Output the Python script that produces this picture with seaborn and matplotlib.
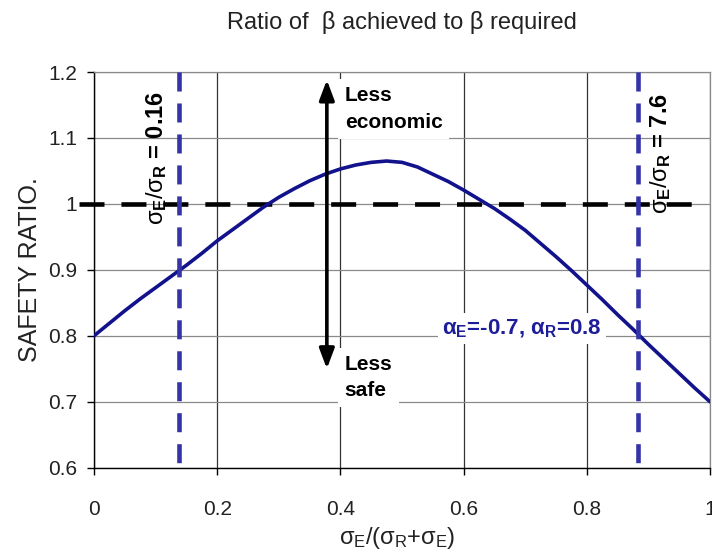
import matplotlib
matplotlib.use("Agg")
import matplotlib.pyplot as plt
import pandas as pd
import seaborn as sns

# Safety ratio (beta achieved / beta required) against the share of load variability
x_share = [0.000, 0.025, 0.050, 0.075, 0.100, 0.125, 0.150, 0.175, 0.200, 0.225,
           0.250, 0.275, 0.300, 0.325, 0.350, 0.375, 0.400, 0.425, 0.450, 0.475,
           0.500, 0.525, 0.550, 0.575, 0.600, 0.625, 0.650, 0.675, 0.700, 0.725,
           0.750, 0.775, 0.800, 0.825, 0.850, 0.875, 0.900, 0.925, 0.950, 0.975, 1.000]
safety_ratio = [0.800, 0.819, 0.838, 0.856, 0.873, 0.890, 0.907, 0.925, 0.944, 0.961,
                0.978, 0.995, 1.010, 1.023, 1.035, 1.045, 1.053, 1.059, 1.063, 1.065,
                1.063, 1.056, 1.045, 1.034, 1.021, 1.007, 0.993, 0.977, 0.960, 0.940,
                0.920, 0.899, 0.877, 0.855, 0.832, 0.810, 0.787, 0.765, 0.743, 0.721, 0.700]
x_ticks = [0, 0.2, 0.4, 0.6, 0.8, 1]
x_tick_labels = ["0", "0.2", "0.4", "0.6", "0.8", "1"]
y_ticks = [0.6, 0.7, 0.8, 0.9, 1.0, 1.1, 1.2]
y_tick_labels = ["0.6", "0.7", "0.8", "0.9", "1", "1.1", "1.2"]
target_ratio = 1.0
sigma_ratio_low = 0.16
sigma_ratio_high = 7.6
alpha_E = -0.7
alpha_R = 0.8

sns.set_style("white")
plt.rcParams["font.family"] = ["Liberation Sans", "DejaVu Sans"]
plt.rcParams.update({
    "mathtext.fontset": "custom",
    "mathtext.rm": "Liberation Sans",
    "mathtext.it": "Liberation Sans",
    "mathtext.bf": "Liberation Sans:bold",
    "lines.scale_dashes": False,
})

NAVY = "#12128C"
BLUE = "#3434A8"
FS = 15

fig = plt.figure(figsize=(7.12, 5.53), dpi=100)
W, H = 712, 553
ax = fig.add_axes([94 / W, 1 - 467.7 / H, 616 / W, 395.7 / H])

df = pd.DataFrame({"share": x_share, "ratio": safety_ratio})
sns.lineplot(data=df, x="share", y="ratio", ax=ax, color=NAVY, linewidth=2.6, zorder=5)

ax.set_xlim(0, 1)
ax.set_ylim(0.6, 1.2)
ax.set_xticks(x_ticks)
ax.set_xticklabels(x_tick_labels)
ax.set_yticks(y_ticks)
ax.set_yticklabels(y_tick_labels)

# grid: grey horizontals, dark verticals
ax.yaxis.grid(True, color="#8a8a8a", linewidth=0.9, zorder=0)
ax.xaxis.grid(True, color="#333333", linewidth=0.9, zorder=0)
ax.set_axisbelow(True)
for side in ("left", "bottom"):
    ax.spines[side].set_color("black")
    ax.spines[side].set_linewidth(1.0)
for side in ("top", "right"):
    ax.spines[side].set_color("#8a8a8a")
    ax.spines[side].set_linewidth(0.9)

ax.tick_params(axis="both", which="major", direction="out", length=5, width=1,
               color="black", labelsize=FS, labelcolor="#222222")
ax.tick_params(axis="y", left=True, pad=7)
ax.tick_params(axis="x", bottom=True, pad=18)

ax.set_xlabel(r"$\sigma_\mathrm{E}$/($\sigma_\mathrm{R}$+$\sigma_\mathrm{E}$)",
              fontsize=17, color="#222222")
ax.xaxis.set_label_coords(0.492, -0.145)
ax.set_ylabel("SAFETY RATIO.", fontsize=18, color="#222222")
ax.yaxis.set_label_coords(-0.085, 0.5)

# required level
ax.plot([-0.024, 0.978], [target_ratio, target_ratio], color="black", linewidth=3.3,
        dashes=(18, 12.2), dash_capstyle="butt", clip_on=False, zorder=4)

# limits of the variability ratio
for r in (sigma_ratio_low, sigma_ratio_high):
    xv = r / (1 + r)
    ax.plot([xv, xv], [1.2, 0.6], color=BLUE, linewidth=3.3, dashes=(13.7, 8.6),
            dash_capstyle="butt", zorder=6)

ax.text(0.102, 1.070, r"$\sigma_{\mathbf{E}}/\sigma_{\mathbf{R}}$" + f" = {sigma_ratio_low:g}",
        rotation=90, ha="center", va="center", fontsize=17, fontweight="bold",
        color="black", zorder=7)
ax.text(0.919, 1.077, r"$\sigma_{\mathbf{E}}/\sigma_{\mathbf{R}}$" + f" = {sigma_ratio_high:g}",
        rotation=90, ha="center", va="center", fontsize=17, fontweight="bold",
        color="black", zorder=7)

# direction arrow
ax.annotate("", xy=(0.378, 1.188), xytext=(0.378, 0.750),
            arrowprops=dict(arrowstyle="<|-|>,head_length=0.8,head_width=0.3",
                            color="black", lw=2.6, mutation_scale=15,
                            shrinkA=0, shrinkB=0), zorder=8)

box = dict(facecolor="white", edgecolor="none", pad=5)
ax.text(0.407, 1.144, "Less\neconomic", ha="left", va="center", fontsize=FS,
        fontweight="bold", color="black", linespacing=1.5, bbox=box, zorder=7)
ax.text(0.407, 0.737, "Less\nsafe", ha="left", va="center", fontsize=FS,
        fontweight="bold", color="black", linespacing=1.5, bbox=box, zorder=7)

ax.text(0.565, 0.811,
        r"$\mathbf{\alpha_{E}}$" + f"={alpha_E:g}, " + r"$\mathbf{\alpha_{R}}$" + f"={alpha_R:g}",
        ha="left", va="center", fontsize=16, fontweight="bold", color="#1E1E9A",
        bbox=dict(facecolor="white", edgecolor="none", pad=3), zorder=7)

fig.text(0.565, 0.96, "Ratio of  \u03b2 achieved to \u03b2 required", ha="center",
         va="center", fontsize=17, color="#222222")

fig.savefig("out.png", dpi=100)
